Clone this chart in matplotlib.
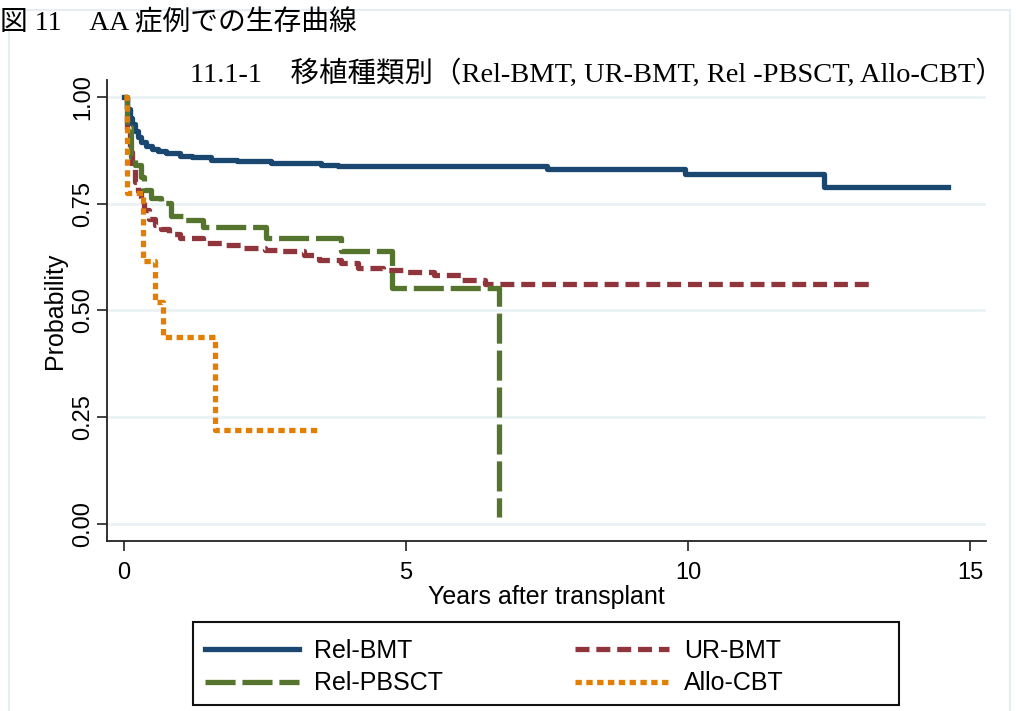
import matplotlib
matplotlib.use('Agg')
import matplotlib.pyplot as plt
from matplotlib.patches import Rectangle

plt.rcParams['font.family'] = ['Liberation Sans', 'DejaVu Sans']

# Kaplan-Meier step data (years, survival probability)
rel_bmt_t = [0, 0.05, 0.1, 0.15, 0.2, 0.25, 0.3, 0.4, 0.5, 0.6, 0.75, 1.0, 1.2, 1.55, 2.0, 2.6, 3.5, 3.8, 7.5, 9.95, 12.4, 14.6]
rel_bmt_s = [1.0, 0.97, 0.95, 0.935, 0.92, 0.905, 0.895, 0.885, 0.877, 0.872, 0.868, 0.862, 0.858, 0.853, 0.849, 0.845, 0.840, 0.837, 0.830, 0.820, 0.789, 0.789]

ur_bmt_t = [0, 0.05, 0.1, 0.15, 0.2, 0.25, 0.3, 0.35, 0.45, 0.55, 0.65, 0.8, 1.0, 1.4, 1.8, 2.1, 2.5, 2.8, 3.2, 3.45, 3.85, 4.15, 4.6, 5.0, 5.5, 6.0, 6.4, 13.3]
ur_bmt_s = [1.0, 0.92, 0.87, 0.83, 0.80, 0.78, 0.76, 0.735, 0.715, 0.70, 0.69, 0.68, 0.67, 0.658, 0.652, 0.645, 0.642, 0.638, 0.63, 0.618, 0.611, 0.60, 0.595, 0.59, 0.583, 0.571, 0.563, 0.563]

rel_pbsct_t = [0, 0.05, 0.12, 0.2, 0.3, 0.36, 0.48, 0.66, 0.84, 1.07, 1.4, 2.52, 3.84, 4.76, 6.65]
rel_pbsct_s = [1.0, 0.93, 0.86, 0.84, 0.813, 0.782, 0.763, 0.752, 0.72, 0.712, 0.696, 0.669, 0.638, 0.552, 0.017]

allo_cbt_t = [0, 0.06, 0.33, 0.55, 0.69, 1.61, 3.42]
allo_cbt_s = [1.0, 0.774, 0.615, 0.52, 0.439, 0.22, 0.22]

x_ticks = [0, 5, 10, 15]
y_ticks = [0.0, 0.25, 0.5, 0.75, 1.0]

fig = plt.figure(figsize=(10.16, 7.11), dpi=100)
ax = fig.add_axes([0.1053, 0.2391, 0.8652, 0.6484])

lw = 3.8
ax.step(rel_bmt_t, rel_bmt_s, where='post', color='#1a476f', lw=lw, label='Rel-BMT', zorder=3)
ax.step(ur_bmt_t, ur_bmt_s, where='post', color='#90353b', lw=lw, label='UR-BMT',
        linestyle=(0, (2.65, 1.3)), zorder=3)
ax.step(rel_pbsct_t, rel_pbsct_s, where='post', color='#55752f', lw=lw, label='Rel-PBSCT',
        linestyle=(0, (5.7, 1.3)), zorder=3)
ax.step(allo_cbt_t, allo_cbt_s, where='post', color='#e37e00', lw=lw, label='Allo-CBT',
        linestyle=(0, (1.2, 0.85)), zorder=3)

ax.set_xlim(-0.30, 15.28)
ax.set_ylim(-0.039, 1.039)
ax.set_xticks(x_ticks)
ax.set_yticks(y_ticks)
ax.set_yticklabels([f'{v:.2f}' for v in y_ticks], rotation=90, va='center')
ax.grid(axis='y', color='#eaf2f3', lw=2.0, zorder=0)
ax.set_axisbelow(True)
for s in ['top', 'right']:
    ax.spines[s].set_visible(False)
for s in ['left', 'bottom']:
    ax.spines[s].set_linewidth(1.3)
    ax.spines[s].set_color('#222222')
ax.tick_params(axis='both', length=7, width=1.2, color='#222222', labelsize=17)
ax.tick_params(axis='x', pad=8)
ax.tick_params(axis='y', pad=2)
ax.set_xlabel('Years after transplant', fontsize=18, labelpad=1)
ax.set_ylabel('Probability', fontsize=18, labelpad=4)

# legend: Stata-style box with uneven padding
h, l = ax.get_legend_handles_labels()
order = [0, 2, 1, 3]
fig.legend([h[i] for i in order], [l[i] for i in order], ncol=2, frameon=False,
           loc='center left', bbox_to_anchor=(205 / 1016, 1 - 667 / 711),
           fontsize=18, handlelength=3.75, handletextpad=0.6, columnspacing=5.3,
           labelspacing=0.35, borderpad=0, borderaxespad=0)
fig.add_artist(Rectangle((193 / 1016, 1 - 705 / 711), 706 / 1016, 83 / 711,
                         transform=fig.transFigure, fill=False, ec='#111111', lw=1.5))

# light outer frame of the graph region
fig.add_artist(Rectangle((9 / 1016, -0.05), 1001 / 1016, 1.05 - 10 / 711,
                         transform=fig.transFigure, fill=False, ec='#e6eef1', lw=1.5))

serif_cjk = ['Liberation Serif', 'Noto Sans CJK JP']
fig.text(0.0, 1 - 23 / 711, '図 11　AA 症例での生存曲線', family=serif_cjk,
         fontsize=20, va='center', ha='left')
fig.text(190 / 1016, 1 - 74 / 711, '11.1-1　移植種類別（Rel-BMT, UR-BMT, Rel -PBSCT, Allo-CBT）',
         family=serif_cjk, fontsize=20.5, va='center', ha='left')

fig.savefig('out.png', dpi=100)
